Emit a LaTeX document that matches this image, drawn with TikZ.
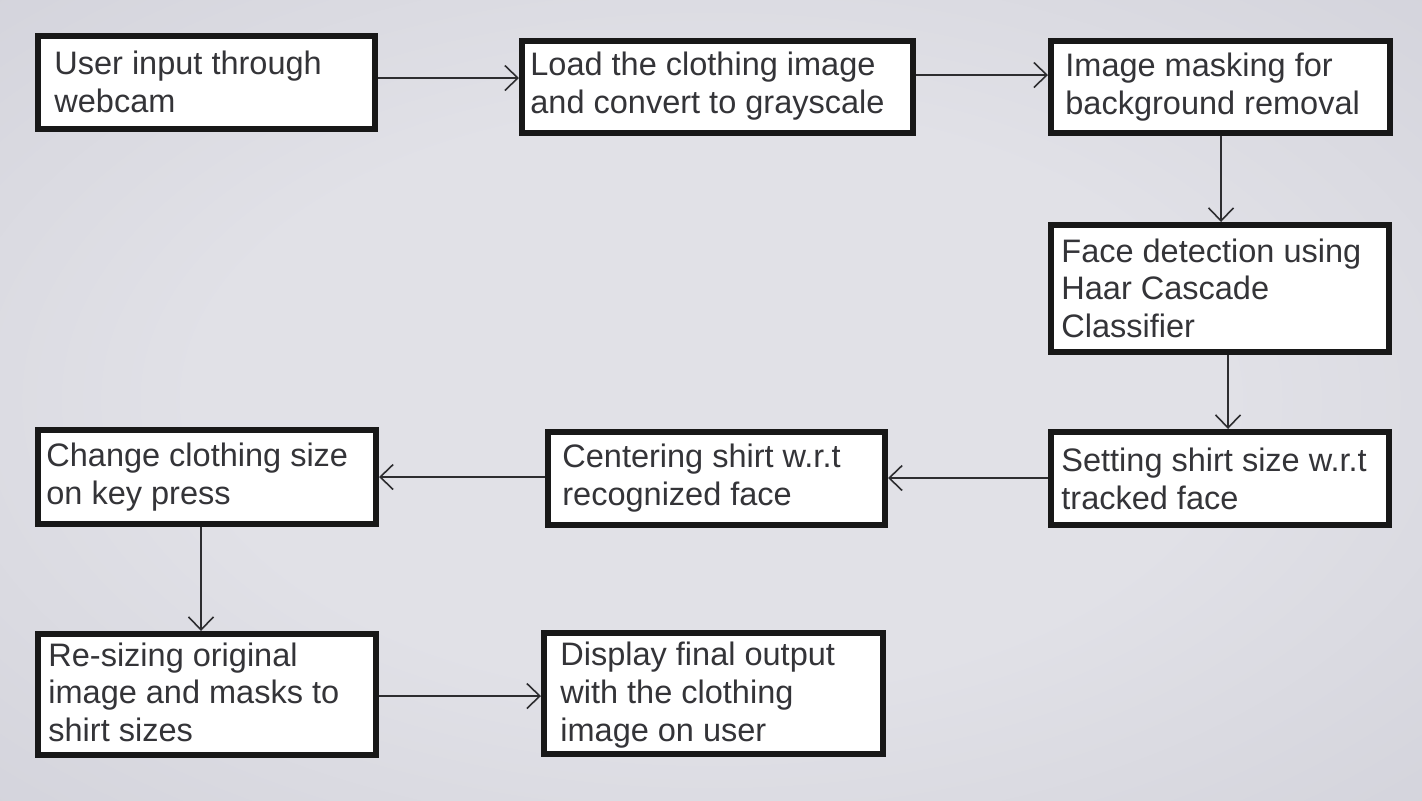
\documentclass[tikz,border=0pt]{standalone}
\usepackage{fontspec}
\setmainfont{Liberation Sans}
\usetikzlibrary{arrows.meta}
\definecolor{bgin}{RGB}{225,225,231}
\definecolor{bgmid}{RGB}{212,212,220}
\definecolor{bgout}{RGB}{188,188,197}
\definecolor{bgcorner}{RGB}{150,150,160}
\definecolor{txtc}{RGB}{52,52,56}
\definecolor{brd}{RGB}{24,24,24}
\definecolor{arrc}{RGB}{45,45,48}
\pgfdeclareradialshading{bgshade}{\pgfpointorigin}{color(0bp)=(bgin); color(18bp)=(bgin); color(36bp)=(bgmid); color(50bp)=(bgout); color(71bp)=(bgcorner); color(100bp)=(bgcorner)}
\begin{document}
\begin{tikzpicture}[x=0.5pt,y=-0.5pt,
  box/.style={draw=brd, line width=3pt, fill=white, inner sep=0pt},
  txt/.style={anchor=west, inner sep=0pt, align=left, text=txtc,
    font=\fontsize{16.25pt}{18.8pt}\selectfont},
  arr/.style={draw=arrc, line width=0.9pt, -{Straight Barb[length=6.5pt,width=12.5pt,line width=0.8pt]}}]
\useasboundingbox (0,0) rectangle (1422,800);
\begin{scope}
\clip (0,0) rectangle (1422,800);
\shade[shading=bgshade] (0,0) rectangle (1422,800);
\end{scope}
% boxes
\node[box, minimum width=168.5pt, minimum height=46.5pt] (b1) at (206.5,82.5) {};
\node[box, minimum width=195.5pt, minimum height=46pt] (b2) at (717.5,87) {};
\node[box, minimum width=169.5pt, minimum height=46pt] (b3) at (1220.5,87) {};
\node[box, minimum width=169pt, minimum height=63.5pt] (b4) at (1220,288.5) {};
\node[box, minimum width=169pt, minimum height=46.5pt] (b5) at (1220,478.5) {};
\node[box, minimum width=168.5pt, minimum height=46.5pt] (b6) at (716.5,478.5) {};
\node[box, minimum width=169pt, minimum height=47pt] (b7) at (207,477) {};
\node[box, minimum width=169pt, minimum height=60.5pt] (b8) at (207,694.5) {};
\node[box, minimum width=169.5pt, minimum height=60.5pt] (b9) at (713.5,693.5) {};
% texts
\node[txt] (t1) at (54,82) {User input through\\webcam};
\node[txt] (t2) at (530,86) {Load the clothing image\\and convert to grayscale};
\node[txt] (t3) at (1065,87) {Image masking for\\background removal};
\node[txt] (t4) at (1061,288) {Face detection using\\Haar Cascade\\Classifier};
\node[txt] (t5) at (1061,479) {Setting shirt size w.r.t\\tracked face};
\node[txt] (t6) at (562,478) {Centering shirt w.r.t\\recognized face};
\node[txt] (t7) at (46,477) {Change clothing size\\on key press};
\node[txt] (t8) at (48,692) {Re-sizing original\\image and masks to\\shirt sizes};
\node[txt] (t9) at (560,695) {Display final output\\with the clothing\\image on user};
% arrows
\draw[arr] (b1.east |- 0,78) -- (b2.west |- 0,78);
\draw[arr] (b2.east |- 0,75) -- (b3.west |- 0,75);
\draw[arr] (b3.south -| 1221,0) -- (b4.north -| 1221,0);
\draw[arr] (b4.south -| 1228,0) -- (b5.north -| 1228,0);
\draw[arr] (b5.west |- 0,478) -- (b6.east |- 0,478);
\draw[arr] (b6.west |- 0,477) -- (b7.east |- 0,477);
\draw[arr] (b7.south -| 201,0) -- (b8.north -| 201,0);
\draw[arr] (b8.east |- 0,696) -- (b9.west |- 0,696);
\end{tikzpicture}
\end{document}
